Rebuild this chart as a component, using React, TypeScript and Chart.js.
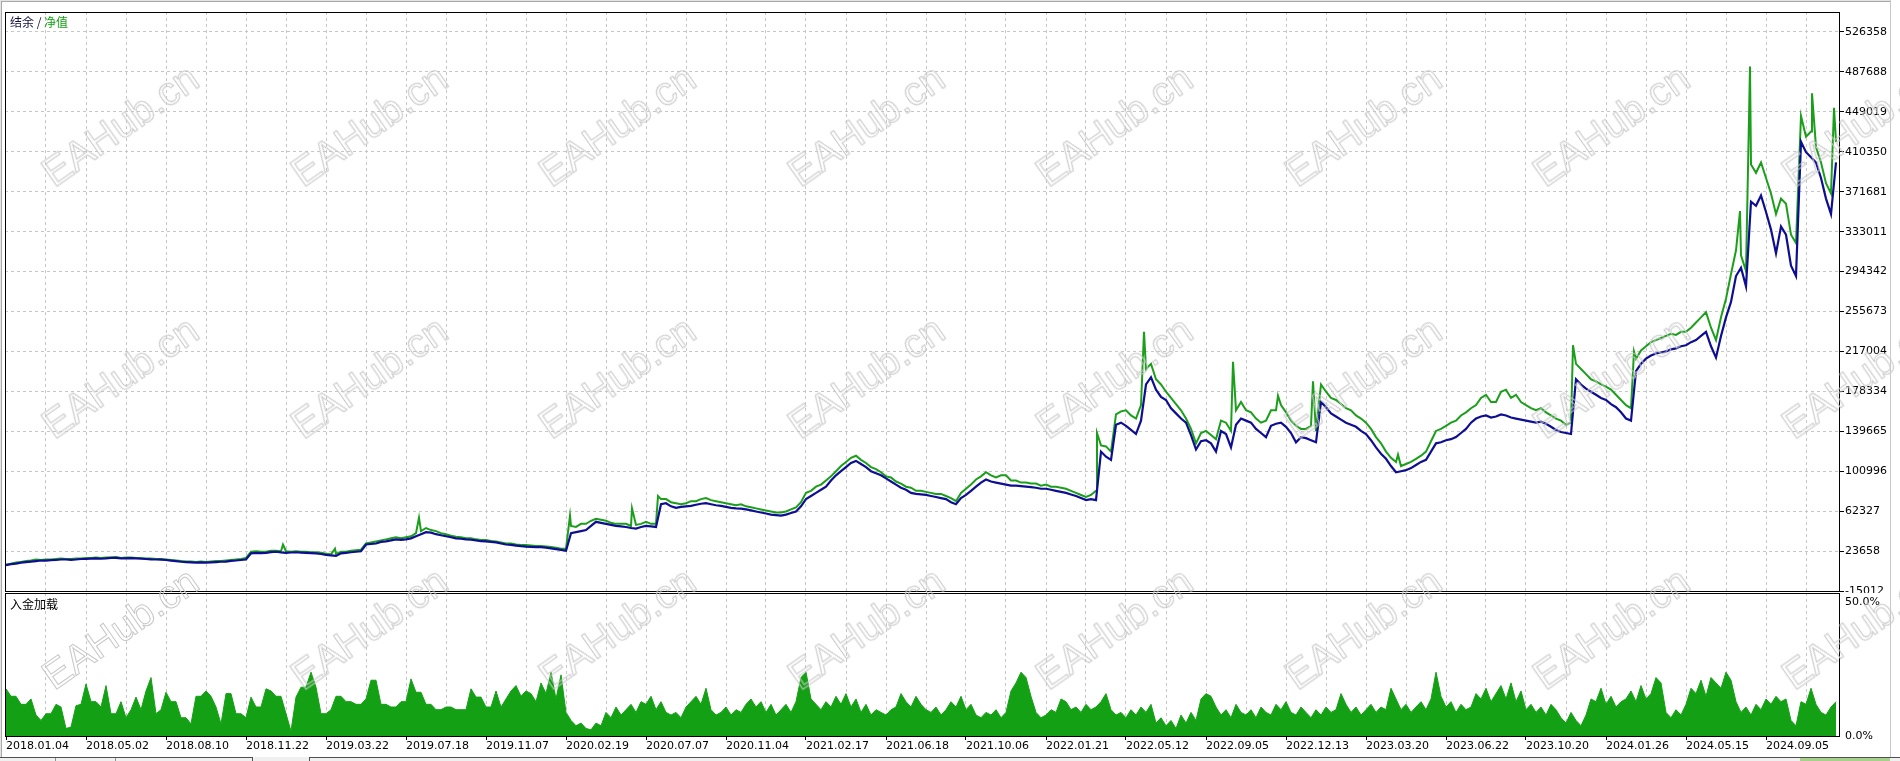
import React, { useEffect, useRef } from 'react';
import { Chart, registerables } from 'chart.js';

Chart.register(...registerables);

// ---------- data ----------
// date labels along the deal axis (one every 16 deal steps)
const dateLabels = [
  '2018.01.04', '2018.05.02', '2018.08.10', '2018.11.22', '2019.03.22', '2019.07.18',
  '2019.11.07', '2020.02.19', '2020.07.07', '2020.11.04', '2021.02.17', '2021.06.18',
  '2021.10.06', '2022.01.21', '2022.05.12', '2022.09.05', '2022.12.13', '2023.03.20',
  '2023.06.22', '2023.10.20', '2024.01.26', '2024.05.15', '2024.09.05',
];

// right axis tick values (balance / equity panel)
const yTickValues = [
  -15012, 23658, 62327, 100996, 139665, 178334, 217004, 255673,
  294342, 333011, 371681, 410350, 449019, 487688, 526358,
];
const loadTickValues = [0, 50];
const loadTickLabels = ['0.0%', '50.0%'];

// balance, in thousands, one value per deal step
const balanceK = [
  10, 11, 11.5, 12.5, 13, 13.5, 14, 14.5, 14.5, 14.8, 15, 15.5, 15.5, 15.2, 15.5, 16, 16, 16.3, 16.5, 16.2,
  16.5, 17, 17, 16.6, 16.5, 16.8, 16.5, 16.2, 16, 15.6, 15.5, 15.3, 15, 14.4, 14, 13.3, 13, 12.8, 12.5, 12.8,
  12.5, 12.7, 13, 13.3, 13.5, 14.2, 14.5, 15, 15.5, 21.5, 22, 21.6, 22, 22.6, 23, 22.4, 22, 22.3, 22.5, 22.2,
  22, 21.7, 21.5, 20.8, 20, 19.4, 19, 21.5, 22, 22.5, 23, 23.5, 30, 30.5, 31, 32.5, 33, 34, 35, 34.5,
  35, 36, 38, 40, 42, 41.5, 40, 39, 38, 37, 36, 35.6, 35, 34.6, 34, 33.2, 33, 32.6, 32, 31,
  30, 29.6, 29, 28.4, 28, 27.8, 27.5, 27.4, 27, 26.2, 25.5, 24.8, 24, 41, 42, 43, 44, 48, 52, 51,
  50, 49, 48, 47.5, 47, 46, 45.5, 47, 48, 47.5, 47, 69, 70, 67, 65.5, 66.5, 67, 67.5, 68.5, 69.5,
  70, 69, 68, 67.5, 66.5, 65.5, 65, 64.8, 64, 63, 62, 61, 60, 59, 58.5, 58, 59, 60.5, 62, 67,
  74, 77, 80, 83, 86, 92, 97, 101, 105, 109, 111, 108, 105, 101, 99, 97, 94, 91, 88, 85,
  83, 80, 79, 78.5, 78, 77, 76, 75, 74, 71, 69, 75, 78, 82, 86, 90, 93, 91, 90, 89,
  88, 87, 87, 86.5, 86, 85.5, 85, 84, 84, 83, 82, 81, 80, 78.5, 77, 75, 73, 74, 73, 120,
  115, 112, 146, 148, 145, 141, 137, 150, 185, 192, 180, 173, 170, 162, 157, 152, 148, 136, 122, 130,
  131, 128, 120, 140, 137, 124, 146, 152, 150, 148, 142, 138, 134, 145, 147, 148, 144, 138, 129, 134,
  133, 131, 129, 168, 163, 157, 154, 151, 148, 146, 144, 140, 137, 131, 124, 118, 113, 106, 100, 101,
  102, 104, 107, 110, 112, 120, 128, 129, 131, 132, 134, 138, 142, 148, 152, 154, 155, 153, 154, 156,
  155, 153, 152, 151, 150, 149, 148, 149, 147, 144, 141, 139, 138, 137, 190, 185, 181, 178, 175, 172,
  170, 166, 163, 158, 152, 150, 198, 205, 210, 213, 215, 216, 217, 219, 220, 222, 223, 226, 228, 232,
  236, 222, 211, 232, 250, 265, 290, 298, 280, 362, 358, 368, 352, 335, 312, 338, 330, 300, 290, 420,
  410, 405, 400, 385, 365, 350, 400,
];

// equity, in thousands, same deal steps as balance
const equityK = [
  10.5, 11.5, 12.5, 13, 14, 14.5, 15.5, 15, 15.5, 15.5, 16, 16.5, 16, 16, 16.5, 16.5, 17, 17, 17.5, 17,
  17.5, 17.5, 18, 17, 17.5, 17.5, 17, 17, 16.5, 16.5, 16, 16, 15.5, 15, 14.5, 14, 13.5, 13.5, 13, 13.5,
  13, 13.5, 14, 14, 14.5, 15, 15.5, 16, 17, 23, 23.5, 23, 23, 24, 24, 23.5, 23.5, 23, 23.5, 23,
  23, 22.5, 22.5, 22, 21, 20.5, 21, 23, 23, 24, 24.5, 25, 31, 32, 33, 34, 35, 36, 37, 36,
  37, 38, 41, 43, 46, 44, 43, 41, 40, 38.5, 37.5, 37, 36, 36, 35, 34.5, 34.5, 33.5, 33, 32,
  31, 31, 30, 29.5, 29.5, 29, 28.5, 28.5, 28, 27.5, 27, 26, 26, 48, 47, 50, 50, 53, 55, 54,
  53, 51, 50, 50, 50, 48, 49, 50, 52, 50, 50, 74, 74, 71, 70, 69, 70, 72, 72, 74,
  75, 73, 72, 71, 70, 69, 68, 69, 67, 66, 65, 64, 63, 62, 61, 61, 62, 64, 66, 71,
  80, 82, 86, 88, 92, 96, 101, 106, 110, 114, 116, 112, 109, 105, 103, 100, 96, 95, 91, 89,
  86, 85, 82, 82, 81, 80, 79, 79, 77, 75, 72, 80, 84, 88, 93, 96, 100, 97, 95, 97,
  97, 92, 92, 90, 90, 89, 89, 87, 88, 86, 86, 85, 84, 82, 80, 78, 76, 78, 82, 126,
  125, 120, 156, 159, 160, 155, 152, 165, 200, 205, 190, 185, 178, 172, 166, 160, 152, 142, 128, 138,
  140, 136, 132, 150, 148, 140, 160, 168, 160, 158, 152, 148, 150, 160, 160, 165, 158, 150, 145, 142,
  142, 145, 140, 185, 178, 172, 170, 166, 162, 160, 155, 152, 148, 142, 134, 128, 120, 114, 110, 106,
  108, 110, 113, 116, 120, 130, 140, 142, 145, 148, 150, 155, 158, 162, 165, 172, 175, 168, 168, 178,
  180, 172, 175, 168, 165, 162, 160, 162, 158, 155, 152, 150, 146, 148, 205, 200, 195, 190, 188, 185,
  183, 180, 175, 170, 165, 162, 210, 218, 222, 226, 228, 230, 232, 234, 233, 236, 236, 240, 245, 250,
  255, 240, 228, 250, 268, 292, 315, 310, 295, 398, 390, 400, 385, 370, 350, 365, 360, 330, 322, 445,
  425, 430, 415, 400, 380, 370, 420,
];

// short equity peaks (deal position, value in thousands)
const spikeAt = [55.4, 65.8, 82.6, 112.8, 125.2, 130.4, 218.2, 227.6, 245.4, 254.4, 261.4, 278.4, 313.4, 325.6, 346.8, 348.8, 361.2, 365.6];
const spikeValueK = [30, 26, 56, 58, 65, 77, 138, 236, 207, 174, 188, 117, 223, 217, 353, 493, 467, 453];

// deposit load, percent, one value per deal step
const depositLoad = [
  17.8, 15, 15, 12, 12, 14, 8, 6, 8.5, 8.5, 12, 11, 3, 3.5, 11.5, 12, 19.6, 13, 13, 11,
  19, 8.5, 8.5, 13, 7, 10, 14.7, 10, 17, 22, 8.5, 10, 16.5, 13, 13, 7, 7, 4.7, 15, 15,
  17, 15, 11, 4.7, 16, 16, 8.5, 8.5, 7, 14.7, 11, 11, 17.8, 17, 15, 15, 8.5, 2, 14.7, 18.4,
  18.4, 24, 18.4, 8.5, 8.5, 10, 15, 15, 13, 13, 12, 12, 14, 21, 21, 12, 12, 11, 11, 13,
  13, 21.5, 16.5, 16.5, 12, 12, 10, 10, 11, 11, 10, 10, 10, 17.8, 14.7, 14.7, 11, 11, 17, 11,
  14, 17, 19, 15, 17, 16, 13, 20, 16, 24, 14, 23, 9, 6, 4, 5, 3, 2.5, 5, 4,
  9, 7, 11, 8, 10, 12, 9, 13, 12, 15, 10, 13, 9, 8, 9, 7, 11, 13, 15, 12,
  18, 10, 8, 9, 11, 8, 10, 9, 12, 14, 11, 13, 9, 12, 8, 10, 12, 9, 13, 22,
  24, 14, 12, 10, 13, 11, 15, 12, 16, 11, 14, 9, 12, 8, 10, 9, 8, 10, 11, 16,
  13, 11, 15, 12, 10, 9, 11, 8, 10, 13, 11, 15, 10, 12, 8, 7, 9, 8, 10, 7,
  9, 17, 20, 24, 22, 15, 9, 7, 8, 10, 9, 14, 13, 10, 11, 9, 12, 10, 11, 13,
  16, 10, 8, 9, 7, 10, 8, 11, 9, 12, 5, 7, 4, 6, 3, 8, 5, 9, 6, 14,
  16, 15, 11, 8, 10, 7, 12, 9, 8, 10, 7, 11, 9, 8, 12, 10, 13, 9, 8, 11,
  9, 7, 10, 8, 11, 9, 10, 16, 12, 9, 11, 8, 10, 12, 9, 11, 10, 18, 14, 10,
  12, 9, 11, 13, 10, 14, 24, 15, 11, 13, 9, 12, 10, 11, 16, 14, 18, 13, 16, 19,
  14, 20, 13, 17, 10, 12, 9, 11, 8, 12, 10, 7, 5, 9, 6, 4, 8, 14, 13, 18,
  12, 15, 11, 13, 14, 17, 13, 19, 14, 16, 22, 20, 9, 7, 10, 8, 12, 18, 16, 21,
  15, 22, 20, 18, 24, 21, 13, 9, 11, 8, 12, 10, 14, 12, 15, 13, 14, 6, 4, 13,
  12, 18, 12, 9, 8, 11, 13,
];

// ---------- styling / layout ----------
const W = 1900;
const TOP_H = 593;
const BOT_TOP = 593;
const BOT_H = 164;
const X_MIN = -0.2;
const X_MAX = 366.8;
const Y_MIN = -15980;
const Y_MAX = 545727;
const L_MIN = -0.1866;
const L_MAX = 53.545;
const GRID_STEP = 8;
const LABEL_STEP = 16;

const BLUE = '#0e0e93';
const GREEN = '#1b9f1b';
const LOAD_GREEN = '#14a014';
const GRID = '#c6c6c6';
const AXIS_FONT = { family: '"DejaVu Sans", sans-serif', size: 11 };
const CLEAR = 'rgba(0,0,0,0)';

const framePlugin = {
  id: 'frame',
  afterDraw(chart: any) {
    const { ctx, chartArea: a } = chart;
    ctx.save();
    ctx.strokeStyle = '#000';
    ctx.lineWidth = 1;
    ctx.strokeRect(a.left + 0.5, a.top + 0.5, a.right - a.left - 1, a.bottom - a.top - 1);
    ctx.restore();
  },
};

function gridTicks(from: number) {
  const out: { value: number }[] = [];
  for (let v = from; v <= X_MAX; v += GRID_STEP) out.push({ value: v });
  return out;
}

const wmCols = [0, 1, 2, 3, 4, 5, 6, 7];
const wmRows = [0, 1, 2];

export default function App() {
  const topRef = useRef<HTMLCanvasElement>(null);
  const botRef = useRef<HTMLCanvasElement>(null);

  useEffect(() => {
    const balancePts = balanceK.map((v, j) => ({ x: j, y: v * 1000 }));
    const equityPts = [
      ...equityK.map((v, j) => ({ x: j, y: v * 1000 })),
      ...spikeAt.map((x, k) => ({ x, y: spikeValueK[k] * 1000 })),
    ].sort((a, b) => a.x - b.x);
    const loadPts = depositLoad.map((v, j) => ({ x: j, y: v }));

    const top = new Chart(topRef.current!, {
      type: 'line',
      data: {
        datasets: [
          { label: '结余', data: balancePts, borderColor: BLUE, borderWidth: 2.2, pointRadius: 0, tension: 0, fill: false },
          { label: '净值', data: equityPts, borderColor: GREEN, borderWidth: 2, pointRadius: 0, tension: 0, fill: false },
        ],
      },
      options: {
        animation: false,
        responsive: false,
        devicePixelRatio: 1,
        events: [],
        layout: { padding: { left: 5, top: 12, right: 0, bottom: 1 } },
        plugins: { legend: { display: false }, tooltip: { enabled: false } },
        scales: {
          x: {
            type: 'linear',
            min: X_MIN,
            max: X_MAX,
            afterBuildTicks: (s: any) => { s.ticks = gridTicks(GRID_STEP); },
            afterFit: (s: any) => { s.height = 0; s.paddingLeft = 0; s.paddingRight = 0; },
            ticks: { display: false },
            grid: { color: GRID, drawTicks: false, lineWidth: 1 },
            border: { display: false, dash: [3, 3] },
          },
          y: {
            type: 'linear',
            position: 'right',
            min: Y_MIN,
            max: Y_MAX,
            afterBuildTicks: (s: any) => { s.ticks = yTickValues.map((value) => ({ value })); },
            afterFit: (s: any) => { s.width = 60; s.paddingTop = 0; s.paddingBottom = 0; },
            ticks: { callback: (v: any) => String(v), font: AXIS_FONT, color: '#000', padding: 1 },
            grid: { color: GRID, tickColor: '#000', tickLength: 4, lineWidth: 1 },
            border: { display: false, dash: [3, 3] },
          },
        },
      },
      plugins: [framePlugin],
    } as any);

    const bot = new Chart(botRef.current!, {
      type: 'line',
      data: {
        datasets: [
          {
            label: '入金加载',
            data: loadPts,
            borderColor: LOAD_GREEN,
            backgroundColor: LOAD_GREEN,
            borderWidth: 1,
            pointRadius: 0,
            tension: 0,
            fill: 'origin',
          },
        ],
      },
      options: {
        animation: false,
        responsive: false,
        devicePixelRatio: 1,
        events: [],
        layout: { padding: { left: 5, top: 0, right: 0, bottom: 0 } },
        plugins: { legend: { display: false }, tooltip: { enabled: false } },
        scales: {
          x: {
            type: 'linear',
            min: X_MIN,
            max: X_MAX,
            afterBuildTicks: (s: any) => { s.ticks = gridTicks(0); },
            afterFit: (s: any) => { s.height = 20; s.paddingLeft = 0; s.paddingRight = 0; },
            ticks: {
              autoSkip: false,
              maxRotation: 0,
              align: 'start',
              padding: 0,
              font: AXIS_FONT,
              color: '#000',
              callback: (v: any, idx: number) =>
                idx % (LABEL_STEP / GRID_STEP) === 0 ? dateLabels[idx / (LABEL_STEP / GRID_STEP)] ?? '' : '',
            },
            grid: {
              color: (c: any) => (c.index === 0 ? CLEAR : GRID),
              tickColor: (c: any) => (c.index % 2 === 0 ? '#000' : CLEAR),
              tickLength: 3,
              lineWidth: 1,
            },
            border: { display: false, dash: [3, 3] },
          },
          y: {
            type: 'linear',
            position: 'right',
            min: L_MIN,
            max: L_MAX,
            afterBuildTicks: (s: any) => { s.ticks = loadTickValues.map((value) => ({ value })); },
            afterFit: (s: any) => { s.width = 60; s.paddingTop = 0; s.paddingBottom = 0; },
            ticks: {
              callback: (_v: any, idx: number) => loadTickLabels[idx],
              font: AXIS_FONT,
              color: '#000',
              padding: 1,
            },
            grid: { drawOnChartArea: false, color: CLEAR, tickColor: CLEAR, tickLength: 4 },
            border: { display: false },
          },
        },
      },
      plugins: [framePlugin],
    } as any);

    return () => {
      top.destroy();
      bot.destroy();
    };
  }, []);

  const cjk = '"Noto Sans CJK SC", "Noto Sans", sans-serif';

  return (
    <div style={{ position: 'absolute', left: 0, top: 0, width: W, height: 761, background: '#fff', overflow: 'hidden' }}>
      <canvas ref={topRef} width={W} height={TOP_H} style={{ position: 'absolute', left: 0, top: 0 }} />
      <canvas ref={botRef} width={W} height={BOT_H} style={{ position: 'absolute', left: 0, top: BOT_TOP }} />

      {/* window chrome */}
      <div style={{ position: 'absolute', left: 0, top: 0, width: 1891, height: 1, background: '#e4e4e4' }} />
      <div style={{ position: 'absolute', left: 0, top: 1, width: 1891, height: 1, background: '#a8a8a8' }} />
      <div style={{ position: 'absolute', left: 0, top: 0, width: 1, height: 757, background: '#e4e4e4' }} />
      <div style={{ position: 'absolute', left: 1, top: 1, width: 1, height: 756, background: '#a8a8a8' }} />
      <div style={{ position: 'absolute', left: 1890, top: 0, width: 1, height: 757, background: '#c8c8c8' }} />
      <div style={{ position: 'absolute', left: 0, top: 757, width: W, height: 4, background: '#f0f0f0' }} />
      <div style={{ position: 'absolute', left: 0, top: 757, width: 253, height: 1, background: '#505050' }} />
      <div style={{ position: 'absolute', left: 252, top: 757, width: 1, height: 4, background: '#505050' }} />
      <div style={{ position: 'absolute', left: 55, top: 758, width: 1, height: 3, background: '#909090' }} />
      <div style={{ position: 'absolute', left: 115, top: 758, width: 1, height: 3, background: '#909090' }} />
      <div style={{ position: 'absolute', left: 309, top: 757, width: W - 309, height: 1, background: '#505050' }} />
      <div style={{ position: 'absolute', left: 309, top: 757, width: 1, height: 4, background: '#505050' }} />
      <div style={{ position: 'absolute', left: 1800, top: 758, width: 90, height: 3, background: '#a8d08d' }} />

      {/* panel titles */}
      <div style={{ position: 'absolute', left: 10, top: 15, font: `12px ${cjk}`, lineHeight: '14px', whiteSpace: 'nowrap', color: '#101040' }}>
        结余 / <span style={{ color: '#12a012' }}>净值</span>
      </div>
      <div style={{ position: 'absolute', left: 10, top: 597, font: `12px ${cjk}`, lineHeight: '14px', whiteSpace: 'nowrap', color: '#000' }}>
        入金加载
      </div>

      {/* watermark */}
      {wmRows.map((r) =>
        wmCols.map((c) => (
          <div
            key={`${r}-${c}`}
            style={{
              position: 'absolute',
              left: 120 + 248.5 * c,
              top: 125 + 251.5 * r,
              transform: 'translate(-50%, -50%) rotate(-35deg)',
              font: '40px "Liberation Sans", Arial, sans-serif',
              lineHeight: '40px',
              color: 'transparent',
              WebkitTextStroke: '1px #c8c8c8',
              whiteSpace: 'nowrap',
              pointerEvents: 'none',
            } as any}
          >
            EAHub.cn
          </div>
        ))
      )}
    </div>
  );
}
